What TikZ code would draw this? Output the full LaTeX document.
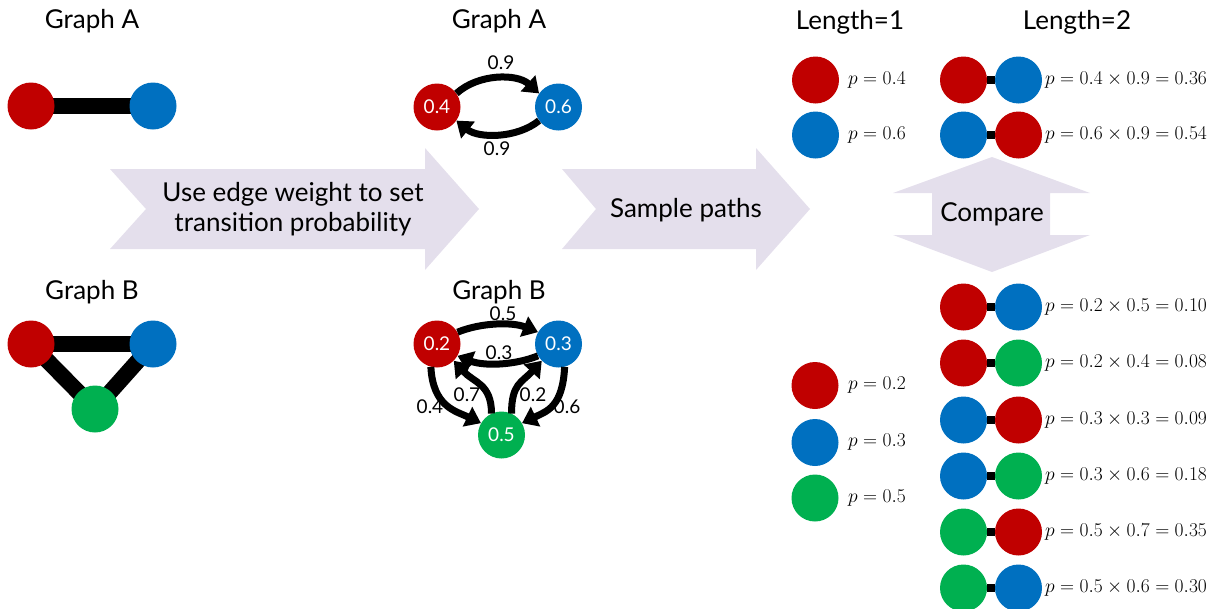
\RequirePackage{fix-cm}
\documentclass[tikz,border=0pt]{standalone}
\usepackage{fontspec}
\setmainfont{Lato}
\usetikzlibrary{arrows.meta,backgrounds}
\definecolor{nred}{RGB}{192,0,0}
\definecolor{nblue}{RGB}{0,112,192}
\definecolor{ngreen}{RGB}{0,176,80}
\definecolor{lav}{RGB}{228,223,236}
\begin{document}
\begin{tikzpicture}[x=1pt,y=-1pt,
  vtx/.style={circle,minimum size=47pt,inner sep=0pt,fill=#1},
  wvtx/.style={vtx=#1,text=white,font=\fontsize{19}{19}\selectfont},
  title/.style={anchor=base,inner sep=0pt,font=\fontsize{26}{26}\selectfont},
  bigtext/.style={align=center,inner sep=0pt,font=\fontsize{26}{30}\selectfont},
  lbl/.style={inner sep=0pt,font=\fontsize{19}{19}\selectfont},
  prob/.style={anchor=west,inner sep=0pt,font=\fontsize{19.5}{19.5}\selectfont},
  uedge/.style={line width=16pt},
  tarrow/.style={line width=7pt,-{Triangle[length=15pt,width=21pt]}},
  link/.style={line width=8pt},
  banner/.style={fill=lav}]
\useasboundingbox (0,0) rectangle (1214,608);

% titles
\node[title] (tA1) at (92,28.5) {Graph A};
\node[title] (tB1) at (92,299) {Graph B};
\node[title] (tA2) at (499,28.5) {Graph A};
\node[title] (tB2) at (499,299) {Graph B};
\node[title] (tL1) at (850,29) {Length=1};
\node[title] (tL2) at (1077,29) {Length=2};

% undirected graphs
\node[vtx=nred]   (ar) at (31,106) {};
\node[vtx=nblue]  (ab) at (153,106) {};
\node[vtx=nred]   (br) at (31,344) {};
\node[vtx=nblue]  (bb) at (153,344) {};
\node[vtx=ngreen] (bg) at (95,409) {};

\begin{scope}[on background layer]
  % process arrows
  \fill[banner] (110,169) -- (425,169) -- (425,148) -- (479,209) -- (425,270)
    -- (425,249) -- (110,249) -- (146,209) -- cycle;
  \fill[banner] (562,169) -- (756,169) -- (756,148) -- (810,209) -- (756,270)
    -- (756,249) -- (562,249) -- (596,209) -- cycle;
  \fill[banner] (992,157) -- (1090,193) -- (1050,193) -- (1050,235) -- (1090,235)
    -- (992,272) -- (893,235) -- (932,235) -- (932,193) -- (893,193) -- cycle;
  % undirected edges
  \draw[uedge] (ar.center) -- (ab.center);
  \draw[uedge] (br.center) -- (bb.center);
  \draw[uedge] (br.center) -- (bg.center);
  \draw[uedge] (bb.center) -- (bg.center);
\end{scope}

\node[bigtext] (t1) at (293,209) {Use edge weight to set\\transition probability};
\node[bigtext] (t2) at (686,210) {Sample paths};
\node[bigtext] (t3) at (992,214) {Compare};

% weighted graph A
\node[wvtx=nred]  (r4) at (437,107) {0.4};
\node[wvtx=nblue] (b6) at (558.5,107) {0.6};
\draw[tarrow] (r4.35) .. controls +(22,-20) and +(-22,-20) .. (b6.145);
\draw[tarrow] (b6.-145) .. controls +(-22,18) and +(22,18) .. (r4.-35);
\node[lbl] (w1) at (501,63) {0.9};
\node[lbl] (w2) at (497,149) {0.9};

% weighted graph B
\node[wvtx=nred]   (r2) at (437,344) {0.2};
\node[wvtx=nblue]  (b3) at (558.5,344) {0.3};
\node[wvtx=ngreen] (g5) at (501.5,435) {0.5};
\draw[tarrow] (r2.30) .. controls +(25,-10) and +(-25,-10) .. (b3.150);
\draw[tarrow] (b3.-150) .. controls +(-25,10) and +(25,10) .. (r2.-30);
\draw[tarrow] (r2.-105) .. controls +(2,40) and +(-25,-12) .. (g5.150);
\draw[tarrow] (g5.115) .. controls +(0,-30) and +(20,22) .. (r2.-45);
\draw[tarrow] (g5.65) .. controls +(0,-30) and +(-20,22) .. (b3.-135);
\draw[tarrow] (b3.-75) .. controls +(-2,40) and +(25,-12) .. (g5.30);
\node[lbl] (w3) at (503,314) {0.5};
\node[lbl] (w4) at (499,353) {0.3};
\node[lbl] (w5) at (430,407) {0.4};
\node[lbl] (w6) at (467,395) {0.7};
\node[lbl] (w7) at (533,395) {0.2};
\node[lbl] (w8) at (567,407) {0.6};

% paths of length 1
\node[vtx=nred]   (l1a) at (815.5,80) {};
\node[vtx=nblue]  (l1b) at (815.5,135) {};
\node[prob] (p1a) at (848,80) {$p=0.4$};
\node[prob] (p1b) at (848,135) {$p=0.6$};
\node[vtx=nred]   (l1c) at (815,385.5) {};
\node[vtx=nblue]  (l1d) at (815,442.5) {};
\node[vtx=ngreen] (l1e) at (815,498) {};
\node[prob] (p1c) at (848,385.5) {$p=0.2$};
\node[prob] (p1d) at (848,442.5) {$p=0.3$};
\node[prob] (p1e) at (848,498) {$p=0.5$};

% paths of length 2
\foreach \i/\y/\ca/\cb/\txt in {
  1/80/nred/nblue/{0.4\times 0.9=0.36},
  2/135/nblue/nred/{0.6\times 0.9=0.54},
  3/307/nred/nblue/{0.2\times 0.5=0.10},
  4/363/nred/ngreen/{0.2\times 0.4=0.08},
  5/420/nblue/nred/{0.3\times 0.3=0.09},
  6/476/nblue/ngreen/{0.3\times 0.6=0.18},
  7/532/ngreen/nred/{0.5\times 0.7=0.35},
  8/588/ngreen/nblue/{0.5\times 0.6=0.30}} {
  \node[vtx=\ca] (s\i) at (963.5,\y) {};
  \node[vtx=\cb] (e\i) at (1018.5,\y) {};
  \draw[link] (s\i) -- (e\i);
  \node[prob] (q\i) at (1045,\y) {$p=\txt$};
}
\end{tikzpicture}
\end{document}
